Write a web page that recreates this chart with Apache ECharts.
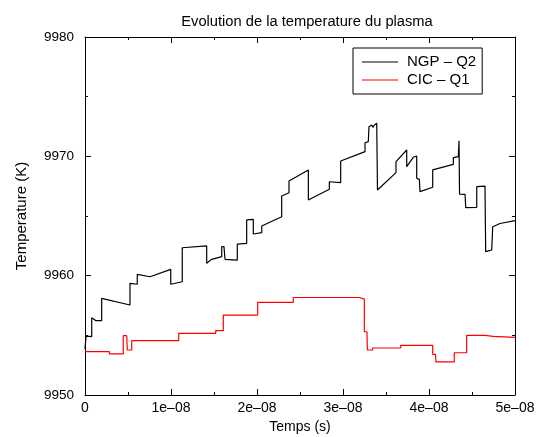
<!DOCTYPE html>
<html>
<head>
<meta charset="utf-8">
<script src="https://cdn.jsdelivr.net/npm/echarts@6/dist/echarts.min.js"></script>
<style>
  html, body { margin: 0; padding: 0; background: #fff; }
  #chart { width: 537px; height: 437px; }
</style>
</head>
<body>
<div id="chart"></div>
<script>
// time in units of 1e-08 s, temperature in K
const ngpTime = [0, 0.012, 0.078, 0.078, 0.128, 0.194, 0.194, 0.523, 0.523, 0.608, 0.608, 0.756, 0.997, 0.997,
  1.131, 1.131, 1.415, 1.415, 1.473, 1.590, 1.590, 1.616, 1.628, 1.771, 1.771, 1.880, 1.880, 1.957, 1.957,
  2.055, 2.055, 2.287, 2.287, 2.372, 2.372, 2.597, 2.597, 2.841, 2.841, 2.973, 2.973, 3.256, 3.256, 3.294,
  3.302, 3.334, 3.349, 3.365, 3.392, 3.401, 3.616, 3.616, 3.741, 3.741, 3.817, 3.857, 3.857, 3.888, 3.895,
  4.043, 4.043, 4.283, 4.283, 4.341, 4.349, 4.355, 4.419, 4.427, 4.555, 4.555, 4.651, 4.659, 4.729, 4.741,
  4.826, 5.0];
const ngpTemp = [9953.85, 9954.94, 9954.89, 9956.48, 9956.23, 9956.23, 9958.10, 9957.54, 9959.36, 9959.28, 9960.11, 9959.91, 9960.53, 9959.28,
  9959.49, 9962.34, 9962.49, 9961.04, 9961.37, 9961.59, 9962.43, 9962.43, 9961.37, 9961.31, 9962.65, 9962.71, 9964.67, 9964.71, 9963.49,
  9963.60, 9964.16, 9964.94, 9966.68, 9966.95, 9967.93, 9968.86, 9966.34, 9967.24, 9967.87, 9967.79, 9969.61, 9970.39, 9971.14, 9971.23,
  9972.48, 9972.63, 9972.43, 9972.63, 9972.77, 9967.18, 9968.63, 9969.55, 9970.53, 9969.13, 9969.92, 9970.03, 9968.16, 9968.07, 9967.04,
  9967.41, 9968.86, 9969.33, 9969.89, 9969.97, 9971.31, 9966.84, 9966.82, 9965.70, 9965.73, 9967.46, 9967.51, 9962.01, 9962.15, 9964.10,
  9964.37, 9964.61];

const cicTime = [0, 0.283, 0.283, 0.445, 0.445, 0.485, 0.492, 0.543, 0.543, 1.090, 1.090, 1.520, 1.520, 1.608, 1.608,
  2.008, 2.008, 2.422, 2.422, 3.190, 3.190, 3.248, 3.248, 3.279, 3.283, 3.345, 3.345, 3.671, 3.671, 4.043, 4.043,
  4.076, 4.080, 4.294, 4.294, 4.438, 4.438, 4.651, 4.651, 4.748, 4.748, 5.0];
const cicTemp = [9953.63, 9953.63, 9953.44, 9953.44, 9954.97, 9954.97, 9953.77, 9953.77, 9954.55, 9954.55, 9955.17, 9955.17, 9955.39, 9955.39, 9956.70,
  9956.70, 9957.77, 9957.77, 9958.17, 9958.17, 9958.04, 9958.04, 9955.30, 9955.30, 9953.77, 9953.77, 9953.94, 9953.94, 9954.16, 9954.16, 9953.41,
  9953.41, 9952.77, 9952.77, 9953.54, 9953.54, 9955.00, 9955.00, 9954.92, 9954.92, 9954.83, 9954.83];

const xTicks = [0, 1, 2, 3, 4, 5];
const yTicks = [9950, 9960, 9970, 9980];

const FONT = 'Liberation Sans';

const chart = echarts.init(document.getElementById('chart'));

function xAxisBase(pos) {
  return {
    type: 'value',
    position: pos,
    min: xTicks[0],
    max: xTicks[xTicks.length - 1],
    interval: 1,
    axisLine: { show: true, onZero: false, lineStyle: { color: '#000', width: 1 } },
    axisTick: { show: true, inside: true, length: 6, lineStyle: { color: '#000' } },
    minorTick: { show: true, splitNumber: 2, length: 3, lineStyle: { color: '#000' } },
    splitLine: { show: false },
    minorSplitLine: { show: false },
  };
}

function yAxisBase(pos) {
  return {
    type: 'value',
    position: pos,
    min: yTicks[0],
    max: yTicks[yTicks.length - 1],
    interval: 10,
    axisLine: { show: true, onZero: false, lineStyle: { color: '#000', width: 1 } },
    axisTick: { show: true, inside: true, length: 6, lineStyle: { color: '#000' } },
    minorTick: { show: true, splitNumber: 2, length: 3, lineStyle: { color: '#000' } },
    splitLine: { show: false },
    minorSplitLine: { show: false },
  };
}

const option = {
  animation: false,
  backgroundColor: '#fff',
  title: {
    text: 'Evolution de la temperature du plasma',
    left: 302,
    textAlign: 'center',
    top: 9,
    textStyle: { fontFamily: FONT, fontSize: 14.7, fontWeight: 'normal', color: '#000' },
  },
  legend: {
    orient: 'vertical',
    left: 353,
    top: 48,
    padding: [5, 6, 5, 9],
    borderColor: '#000',
    borderWidth: 1,
    borderRadius: 0,
    itemGap: 0,
    itemWidth: 36,
    itemHeight: 1,
    icon: 'rect',
    textStyle: { fontFamily: FONT, fontSize: 15, color: '#000', lineHeight: 18, padding: [0, 0, 0, 4] },
    data: ['NGP – Q2', 'CIC – Q1'],
  },
  grid: {
    left: 85,
    right: 22,
    top: 37,
    bottom: 42,
    containLabel: false,
    outerBoundsMode: 'none',
  },
  xAxis: [
    Object.assign(xAxisBase('bottom'), {
      name: 'Temps (s)',
      nameLocation: 'middle',
      nameGap: 25,
      nameTextStyle: { fontFamily: FONT, fontSize: 14, color: '#000' },
      axisLabel: {
        fontFamily: FONT, fontSize: 14, color: '#000', margin: 6,
        formatter: v => (v === 0 ? '0' : v + 'e–08'),
      },
    }),
    Object.assign(xAxisBase('top'), { axisLabel: { show: false } }),
  ],
  yAxis: [
    Object.assign(yAxisBase('left'), {
      name: 'Temperature (K)',
      nameLocation: 'middle',
      nameGap: 56,
      nameTextStyle: { fontFamily: FONT, fontSize: 15, color: '#000' },
      axisLabel: { fontFamily: FONT, fontSize: 13.5, color: '#000', margin: 11, formatter: v => String(v) },
    }),
    Object.assign(yAxisBase('right'), { axisLabel: { show: false } }),
  ],
  series: [
    {
      name: 'NGP – Q2',
      type: 'line',
      xAxisIndex: 0,
      yAxisIndex: 0,
      data: ngpTime.map((t, i) => [t, ngpTemp[i]]),
      showSymbol: false,
      symbol: 'none',
      color: '#000',
      lineStyle: { color: '#000', width: 1.2 },
    },
    {
      name: 'CIC – Q1',
      type: 'line',
      xAxisIndex: 0,
      yAxisIndex: 0,
      data: cicTime.map((t, i) => [t, cicTemp[i]]),
      showSymbol: false,
      symbol: 'none',
      color: '#f00',
      lineStyle: { color: '#f00', width: 1.2 },
    },
  ],
};

chart.setOption(option);
</script>
</body>
</html>
